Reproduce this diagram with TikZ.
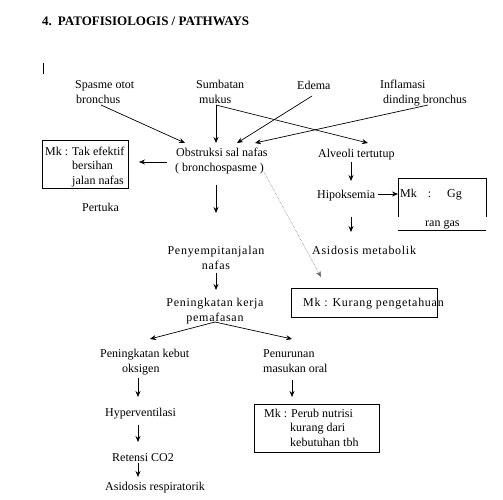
\documentclass[tikz,border=0pt]{standalone}
\usepackage{fontspec}
\setmainfont{Liberation Serif}
\usetikzlibrary{arrows.meta}
\begin{document}
\begin{tikzpicture}[x=1pt,y=-1pt,
  txt/.style={inner sep=0pt, anchor=base west, align=left, font=\fontsize{12}{14.5}\selectfont},
  ctxt/.style={inner sep=0pt, anchor=base, align=center, font=\fontsize{12}{14.5}\selectfont},
  wide/.style={font=\fontsize{12}{14.5}\selectfont\addfontfeatures{LetterSpace=6}},
  boxst/.style={draw, line width=0.7pt, inner sep=0pt, anchor=north west},
  arr/.style={line width=0.7pt, -{Stealth[length=6pt,width=5pt]}},
  dotarr/.style={black!60, line width=0.5pt, densely dotted, -{Stealth[length=6pt,width=5pt]}}]
\useasboundingbox[fill=white] (0,0) rectangle (503,499);

% title and cursor mark
\node[inner sep=0pt, anchor=base west, font=\fontsize{13}{15}\selectfont\bfseries] (title) at (42,25) {4.\hspace{6pt}PATOFISIOLOGIS / PATHWAYS};
\draw[line width=1.6pt] (43.5,63) -- (43.5,74);

% causes (base anchor = baseline of last line)
\node[txt] (spasme) at (75,103) {Spasme otot\\\hspace*{1pt}bronchus};
\node[txt] (sumbatan) at (196,103) {Sumbatan\\\hspace*{3pt}mukus};
\node[txt] (edema) at (297,89) {Edema};
\node[txt] (inflamasi) at (380,103) {Inflamasi\\\hspace*{3pt}dinding bronchus};

% obstruction
\node[txt] (obs) at (175,171) {\hspace*{1pt}Obstruksi sal nafas\\( bronchospasme )};
\node[boxst, minimum width=86pt, minimum height=48pt] (mk1) at (42,140) {};
\node[txt] (mk1t) at (45,184) {Mk : Tak efektif\\\hspace*{27pt}bersihan\\\hspace*{27pt}jalan nafas};
\node[txt] (pertuka) at (82,211) {Pertuka};

% right branch
\node[txt] (alveoli) at (318,157) {Alveoli tertutup};
\node[txt] (hipo) at (317,198) {Hipoksemia};
\node[txt] (mkgg) at (400,197) {Mk\hspace{11pt}:\hspace{16pt}Gg};
\node[txt] (rangas) at (425,226) {ran gas};
\draw[line width=0.7pt] (398,217) -- (398,178) -- (486,178) -- (486,217);
\draw[line width=0.7pt] (398,230) -- (486,230);
\node[txt, wide] (asimet) at (312,254) {Asidosis metabolik};
\node[boxst, minimum width=146pt, minimum height=29pt] (mkkur) at (291,288) {};
\node[txt, wide] (mkkurt) at (303,306) {Mk : Kurang pengetahuan};

% middle column
\node[ctxt, wide] (penyempitan) at (216,269) {Penyempitanjalan\\nafas};
\node[ctxt, wide] (peningkatan) at (215,321) {Peningkatan kerja\\pemafasan};

% lower left
\node[txt] (kebut) at (100,372) {Peningkatan kebut\\\hspace*{22pt}oksigen};
\node[txt] (hyper) at (105,416) {Hyperventilasi};
\node[txt] (retensi) at (112,461) {Retensi CO2};
\node[txt] (asires) at (105,490) {Asidosis respiratorik};

% lower right
\node[txt] (penurunan) at (263,372) {Penurunan\\masukan oral};
\node[boxst, minimum width=125pt, minimum height=48pt] (mkperub) at (254,404) {};
\node[txt] (mkperubt) at (264,446) {Mk : Perub nutrisi\\\hspace*{26pt}kurang dari\\\hspace*{26pt}kebutuhan tbh};

% connector end points
\coordinate (spasmeO) at (101,105);
\coordinate (sumbO) at (216,105);
\coordinate (edemaO) at (312,96);
\coordinate (inflO) at (428,105);
\coordinate (obsIa) at (185,143);
\coordinate (obsIb) at (216,143);
\coordinate (obsIc) at (237,143);
\coordinate (obsId) at (255,143);
\coordinate (alvI) at (368,143);
\coordinate (obsL) at (167,162);
\coordinate (mk1I) at (139,162);
\coordinate (obsB) at (216,185);
\coordinate (penyI) at (216,213);
\coordinate (obsR) at (264,172);
\coordinate (mkkurI) at (321,277);
\coordinate (alvB) at (351,162);
\coordinate (hipoI) at (351,181);
\coordinate (hipoR) at (378,194);
\coordinate (mkggI) at (398,194);
\coordinate (hipoB) at (351,217);
\coordinate (asimetI) at (351,232);
\coordinate (penyB) at (216,273);
\coordinate (peninI) at (216,290);
\coordinate (peninB) at (215,322);
\coordinate (kebutI) at (150,339);
\coordinate (penurI) at (292,339);
\coordinate (kebutB) at (138,378);
\coordinate (hyperI) at (138,397);
\coordinate (hyperB) at (138,425);
\coordinate (retI) at (138,442);
\coordinate (retB) at (138,463);
\coordinate (asiresI) at (138,477);
\coordinate (penurB) at (292,380);
\coordinate (perubI) at (292,397);

% connectors
\draw[arr] (spasmeO) -- (obsIa);
\draw[arr] (sumbO) -- (obsIb);
\draw[arr] (sumbO) -- (alvI);
\draw[arr] (edemaO) -- (obsIc);
\draw[arr] (inflO) -- (obsId);
\draw[arr] (obsL) -- (mk1I);
\draw[arr] (obsB) -- (penyI);
\draw[dotarr] (obsR) -- (mkkurI);
\draw[arr] (alvB) -- (hipoI);
\draw[arr] (hipoR) -- (mkggI);
\draw[arr] (hipoB) -- (asimetI);
\draw[arr] (penyB) -- (peninI);
\draw[arr] (peninB) -- (kebutI);
\draw[arr] (peninB) -- (penurI);
\draw[arr] (kebutB) -- (hyperI);
\draw[arr] (hyperB) -- (retI);
\draw[arr] (retB) -- (asiresI);
\draw[arr] (penurB) -- (perubI);
\end{tikzpicture}
\end{document}
